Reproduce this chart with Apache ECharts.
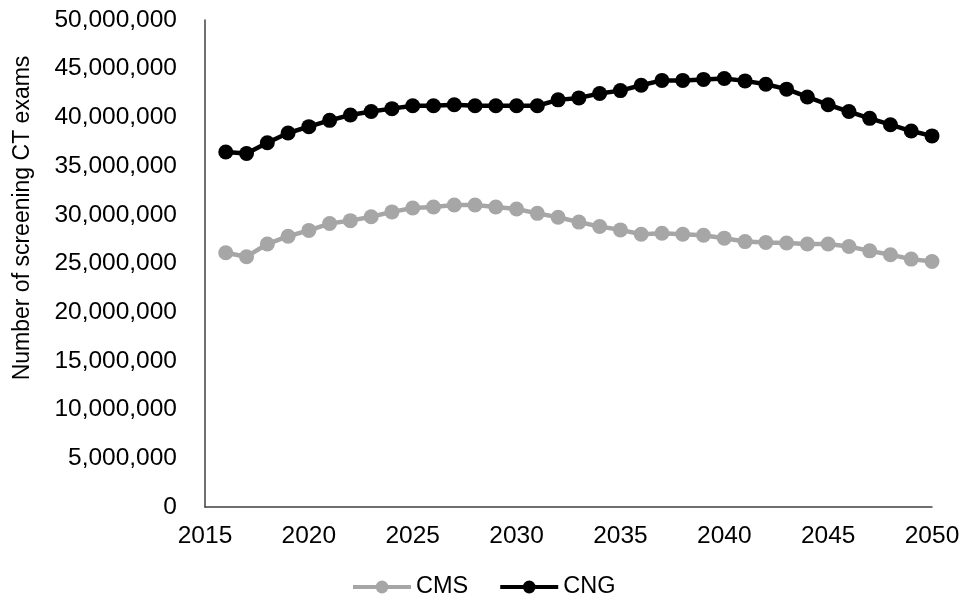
<!DOCTYPE html>
<html>
<head>
<meta charset="utf-8">
<script src="https://cdn.jsdelivr.net/npm/echarts@6/dist/echarts.min.js"></script>
<style>
html,body{margin:0;padding:0;background:#fff;}
#chart{width:976px;height:607px;}
</style>
</head>
<body>
<div id="chart"></div>
<script>
var years = [2016,2017,2018,2019,2020,2021,2022,2023,2024,2025,2026,2027,2028,2029,2030,2031,2032,2033,2034,2035,2036,2037,2038,2039,2040,2041,2042,2043,2044,2045,2046,2047,2048,2049,2050];
var cms = [26100000,25700000,27000000,27800000,28400000,29100000,29400000,29800000,30300000,30700000,30800000,31000000,31000000,30800000,30600000,30150000,29750000,29250000,28800000,28450000,28000000,28100000,28000000,27900000,27600000,27250000,27150000,27100000,27000000,27000000,26750000,26300000,25900000,25450000,25200000];
var cng = [36450000,36300000,37400000,38400000,39050000,39700000,40250000,40600000,40900000,41200000,41200000,41300000,41200000,41200000,41200000,41200000,41800000,42000000,42450000,42750000,43300000,43800000,43800000,43900000,44000000,43750000,43400000,42900000,42100000,41300000,40600000,39900000,39250000,38600000,38100000];
var yTitle = "Number of screening CT exams";
var seriesNames = ["CMS", "CNG"];

function pairs(vals){ return years.map(function(y,i){ return [y, vals[i]]; }); }

var chart = echarts.init(document.getElementById('chart'));
var font = "'Liberation Sans', Arial, sans-serif";
chart.setOption({
  animation: false,
  backgroundColor: '#ffffff',
  textStyle: { fontFamily: font },
  grid: { left: 205, right: 44, top: 20, bottom: 100, containLabel: false },
  xAxis: {
    type: 'value', min: 2015, max: 2050, interval: 5,
    axisLine: { show: true, lineStyle: { color: '#404040', width: 1.5 } },
    axisTick: { show: false },
    splitLine: { show: false },
    axisLabel: { color: '#000', fontSize: 24.5, fontFamily: font, margin: 17,
      formatter: function(v){ return String(v); } }
  },
  yAxis: {
    type: 'value', min: 0, max: 50000000, interval: 5000000,
    axisLine: { show: true, lineStyle: { color: '#404040', width: 1.5 } },
    axisTick: { show: false },
    splitLine: { show: false },
    axisLabel: { color: '#000', fontSize: 24.5, fontFamily: font, margin: 28,
      formatter: function(v){ return v.toLocaleString('en-US'); } }
  },
  graphic: [{
    type: 'text', x: 23, y: 218, rotation: Math.PI/2,
    style: { text: yTitle, fontSize: 23, fontFamily: font, fill: '#000', align: 'center', verticalAlign: 'middle' }
  }],
  legend: {
    bottom: 3, left: 346,
    itemWidth: 58, itemHeight: 16, itemGap: 30,
    lineStyle: { width: 4 },
    textStyle: { fontSize: 23.5, color: '#000', fontFamily: font },
    data: seriesNames
  },
  series: [
    { name: seriesNames[0], type: 'line', data: pairs(cms), symbol: 'circle', symbolSize: 15,
      itemStyle: { color: '#A6A6A6' }, lineStyle: { color: '#A6A6A6', width: 4.5 } },
    { name: seriesNames[1], type: 'line', data: pairs(cng), symbol: 'circle', symbolSize: 15,
      itemStyle: { color: '#000000' }, lineStyle: { color: '#000000', width: 4.5 } }
  ]
});
</script>
</body>
</html>
